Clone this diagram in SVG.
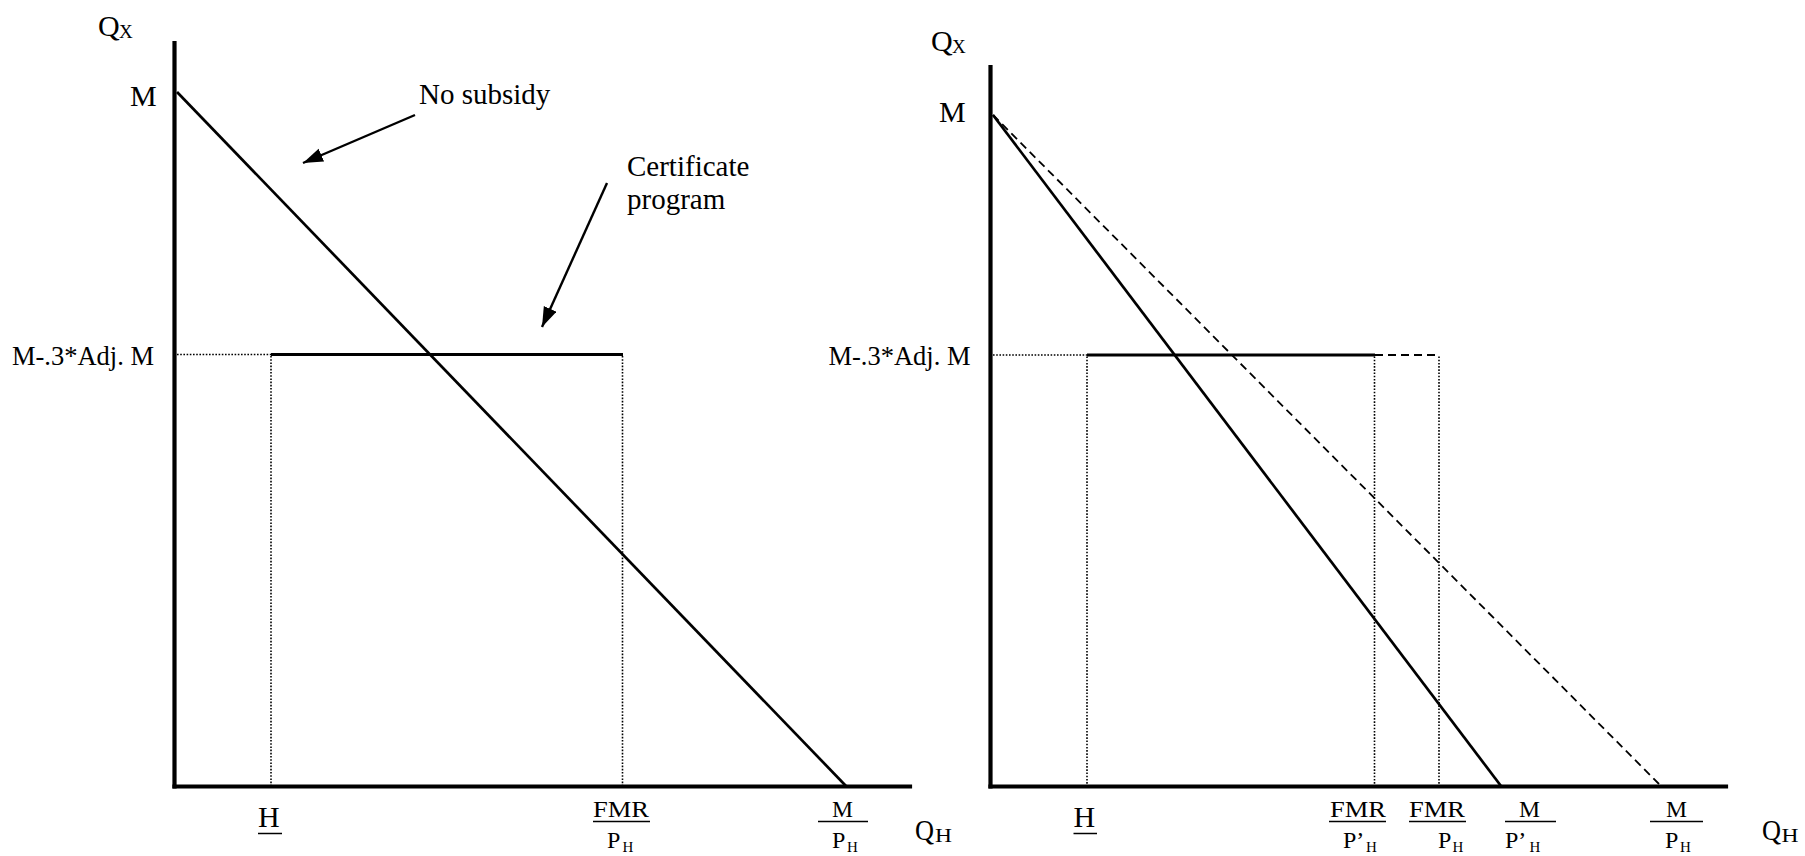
<svg xmlns="http://www.w3.org/2000/svg" width="1805" height="856" viewBox="0 0 1805 856">
  <style>
    text { font-family: "Liberation Serif", "Times New Roman", serif; fill: #000; }
    .axis { stroke: #000; stroke-width: 4.2; fill: none; stroke-linecap: square; }
    .curve { stroke: #000; stroke-width: 2.7; fill: none; }
    .cert { stroke: #000; stroke-width: 3.2; fill: none; }
    .dash { stroke: #000; stroke-width: 1.8; fill: none; stroke-dasharray: 8 5; }
    .dot { stroke: #000; stroke-width: 1.6; fill: none; stroke-dasharray: 1.6 1.6; }
    .bar { stroke: #000; stroke-width: 1.5; fill: none; }
    .arrow { stroke: #000; stroke-width: 2.4; fill: none; }
    .big { font-size: 30px; }
    .lab { font-size: 26.5px; }
    .note { font-size: 29px; }
    .frac { font-size: 24px; }
    .sub { font-size: 15px; }
    .subq { font-size: 19px; }
  </style>
  <defs>
    <marker id="ah" markerUnits="userSpaceOnUse" markerWidth="22" markerHeight="16" refX="20" refY="7" orient="auto">
      <path d="M0,0 L20,7 L0,14 z" fill="#000"/>
    </marker>
  </defs>

  <g id="left-chart">
    <g id="left-axes">
      <line class="axis" x1="174.5" y1="43" x2="174.5" y2="786.5"/>
      <line class="axis" x1="174.5" y1="786.5" x2="910" y2="786.5"/>
    </g>
    <g id="left-lines">
      <line class="curve" x1="177" y1="92" x2="846" y2="786"/>
      <line class="dot" x1="177" y1="354.5" x2="271" y2="354.5"/>
      <line class="cert" x1="271" y1="354.5" x2="623" y2="354.5"/>
      <line class="dot" x1="271" y1="356" x2="271" y2="785"/>
      <line class="dot" x1="622.5" y1="356" x2="622.5" y2="785"/>
    </g>
    <g id="left-connectors">
      <line class="arrow" x1="415" y1="115" x2="303" y2="163" marker-end="url(#ah)"/>
      <line class="arrow" x1="607" y1="183" x2="542" y2="327" marker-end="url(#ah)"/>
    </g>
    <g id="left-labels">
      <text class="big" x="98" y="36">Q</text>
      <text class="subq" x="119" y="37.5">X</text>
      <text class="big" x="130" y="106">M</text>
      <text class="lab" x="154" y="365" text-anchor="end">M-.3*Adj. M</text>
      <text class="note" x="419" y="104">No subsidy</text>
      <text class="note" x="627" y="176">Certificate</text>
      <text class="note" x="627" y="209">program</text>
      <text class="big" x="258" y="827">H</text>
      <line class="bar" x1="258" y1="833.5" x2="282" y2="833.5"/>
      <text class="frac" x="593" y="817" textLength="56" lengthAdjust="spacingAndGlyphs">FMR</text>
      <line class="bar" x1="593" y1="821.5" x2="650" y2="821.5"/>
      <text class="frac" x="607" y="848">P</text>
      <text class="sub" x="622.5" y="852">H</text>
      <text class="frac" x="832" y="817" textLength="21" lengthAdjust="spacingAndGlyphs">M</text>
      <line class="bar" x1="818" y1="821.5" x2="868" y2="821.5"/>
      <text class="frac" x="832" y="848">P</text>
      <text class="sub" x="847" y="852">H</text>
      <text class="big" x="915" y="840" textLength="19" lengthAdjust="spacingAndGlyphs">Q</text>
      <text class="subq" x="935" y="842" textLength="17" lengthAdjust="spacingAndGlyphs">H</text>
    </g>
  </g>

  <g id="right-chart">
    <g id="right-axes">
      <line class="axis" x1="990.5" y1="67" x2="990.5" y2="786.5"/>
      <line class="axis" x1="990.5" y1="786.5" x2="1726" y2="786.5"/>
    </g>
    <g id="right-lines">
      <line class="curve" x1="993" y1="115" x2="1501" y2="786"/>
      <line class="dash" x1="993" y1="115" x2="1661" y2="786"/>
      <line class="dot" x1="993" y1="355" x2="1087" y2="355"/>
      <line class="cert" x1="1087" y1="355" x2="1375" y2="355"/>
      <line class="dash" x1="1375" y1="355" x2="1439" y2="355"/>
      <line class="dot" x1="1087" y1="356.5" x2="1087" y2="785"/>
      <line class="dot" x1="1374.5" y1="356.5" x2="1374.5" y2="785"/>
      <line class="dot" x1="1439" y1="356.5" x2="1439" y2="785"/>
    </g>
    <g id="right-labels">
      <text class="big" x="931" y="51">Q</text>
      <text class="subq" x="952" y="53">X</text>
      <text class="big" x="939" y="121.5">M</text>
      <text class="lab" x="970.5" y="365" text-anchor="end">M-.3*Adj. M</text>
      <text class="big" x="1073.5" y="827">H</text>
      <line class="bar" x1="1073.5" y1="833.5" x2="1097" y2="833.5"/>

      <text class="frac" x="1330" y="817" textLength="56" lengthAdjust="spacingAndGlyphs">FMR</text>
      <line class="bar" x1="1329" y1="821.5" x2="1386" y2="821.5"/>
      <text class="frac" x="1343" y="848">P’</text>
      <text class="sub" x="1366" y="852">H</text>

      <text class="frac" x="1409" y="817" textLength="56" lengthAdjust="spacingAndGlyphs">FMR</text>
      <line class="bar" x1="1409" y1="821.5" x2="1466" y2="821.5"/>
      <text class="frac" x="1438" y="848">P</text>
      <text class="sub" x="1452.5" y="852">H</text>

      <text class="frac" x="1519" y="817" textLength="21" lengthAdjust="spacingAndGlyphs">M</text>
      <line class="bar" x1="1505" y1="821.5" x2="1556" y2="821.5"/>
      <text class="frac" x="1505" y="848">P’</text>
      <text class="sub" x="1529.5" y="852">H</text>

      <text class="frac" x="1666" y="817" textLength="21" lengthAdjust="spacingAndGlyphs">M</text>
      <line class="bar" x1="1650" y1="821.5" x2="1703" y2="821.5"/>
      <text class="frac" x="1665" y="848">P</text>
      <text class="sub" x="1680" y="852">H</text>

      <text class="big" x="1762" y="840" textLength="19" lengthAdjust="spacingAndGlyphs">Q</text>
      <text class="subq" x="1781.5" y="842" textLength="17" lengthAdjust="spacingAndGlyphs">H</text>
    </g>
  </g>
</svg>
